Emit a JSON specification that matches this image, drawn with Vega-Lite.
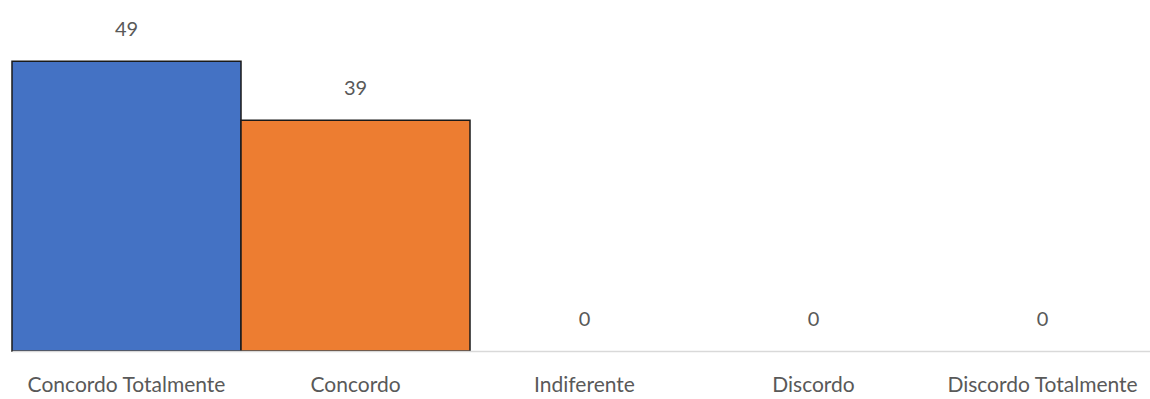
{
  "$schema": "https://vega.github.io/schema/vega-lite/v6.json",
  "autosize": "none",
  "width": 1145,
  "height": 349,
  "padding": {"left": 12, "top": 2, "right": 0, "bottom": 48},
  "background": "white",
  "config": {"view": {"stroke": null}},
  "data": {
    "values": [
      {"resposta": "Concordo Totalmente", "total": 49},
      {"resposta": "Concordo", "total": 39},
      {"resposta": "Indiferente", "total": 0},
      {"resposta": "Discordo", "total": 0},
      {"resposta": "Discordo Totalmente", "total": 0}
    ]
  },
  "encoding": {
    "x": {
      "field": "resposta",
      "type": "nominal",
      "sort": null,
      "scale": {"paddingInner": 0, "paddingOuter": 0},
      "axis": {
        "title": null,
        "labelAngle": 0,
        "labelLimit": 0,
        "ticks": false,
        "domainColor": "#d9d9d9",
        "domainWidth": 1.5,
        "labelColor": "#595959",
        "labelFont": "Lato",
        "labelFontSize": 21,
        "labelPadding": 23,
        "zindex": 1
      }
    },
    "y": {
      "field": "total",
      "type": "quantitative",
      "scale": {"domain": [0, 59], "nice": false},
      "axis": null
    }
  },
  "layer": [
    {
      "transform": [{"filter": "datum.total > 0"}],
      "mark": {"type": "bar", "stroke": "#1a1a1a", "strokeWidth": 1.5},
      "encoding": {
        "color": {
          "field": "resposta",
          "type": "nominal",
          "sort": null,
          "scale": {"domain": ["Concordo Totalmente", "Concordo", "Indiferente", "Discordo", "Discordo Totalmente"], "range": ["#4472C4", "#ED7D31", "#A5A5A5", "#FFC000", "#5B9BD5"]},
          "legend": null
        }
      }
    },
    {
      "mark": {"type": "text", "baseline": "bottom", "dy": -21, "font": "Lato", "fontSize": 20, "color": "#595959"},
      "encoding": {"text": {"field": "total", "type": "quantitative"}}
    }
  ]
}
